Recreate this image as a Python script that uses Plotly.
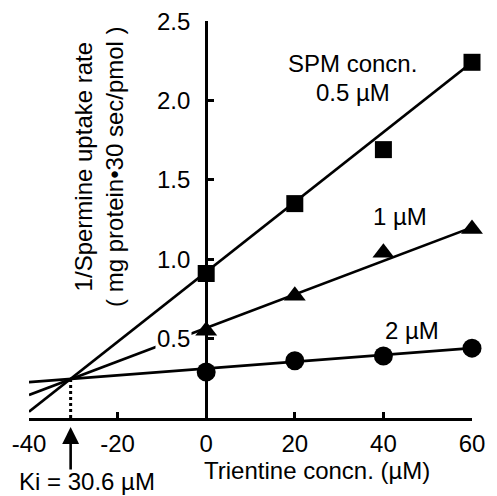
import plotly.graph_objects as go

# Data
trientine = [0, 20, 40, 60]
spm_05 = [0.91, 1.35, 1.69, 2.24]
spm_1 = [0.55, 0.77, 1.04, 1.19]
spm_2 = [0.29, 0.36, 0.39, 0.44]

# Fitted lines (end points)
fit_x = [-40, 60]
fit_05 = [0.04, 2.24]
fit_1 = [0.145, 1.20]
fit_2 = [0.226, 0.44]

ki_value = -30.6
ki_y = 0.247

x_ticks = [-40, -20, 0, 20, 40, 60]
y_ticks = [0.5, 1.0, 1.5, 2.0, 2.5]

FONT = "Liberation Sans, Arial, Helvetica, sans-serif"
FS = 24

fig = go.Figure()

for fy in (fit_05, fit_1, fit_2):
    fig.add_trace(go.Scatter(x=fit_x, y=fy, mode="lines",
                             line=dict(color="black", width=2.6),
                             cliponaxis=False, showlegend=False, hoverinfo="skip"))

fig.add_trace(go.Scatter(x=[ki_value, ki_value], y=[0, ki_y], mode="lines",
                         line=dict(color="black", width=3, dash="dot"),
                         showlegend=False, hoverinfo="skip"))

fig.add_trace(go.Scatter(x=trientine, y=spm_05, mode="markers",
                         marker=dict(symbol="square", size=17, color="black"),
                         cliponaxis=False, showlegend=False))
fig.add_trace(go.Scatter(x=trientine, y=spm_1, mode="markers",
                         marker=dict(symbol="triangle-up", size=19, color="black"),
                         cliponaxis=False, showlegend=False))
fig.add_trace(go.Scatter(x=trientine, y=spm_2, mode="markers",
                         marker=dict(symbol="circle", size=19, color="black"),
                         cliponaxis=False, showlegend=False))

annotations = []
for v in y_ticks:
    annotations.append(dict(x=0, y=v, xref="x", yref="y", text=f"{v:.1f}",
                            showarrow=False, xanchor="right", yanchor="middle",
                            xshift=-14, bgcolor="white", borderpad=1,
                            font=dict(family=FONT, size=FS, color="black")))

def label(text, x, y, xref="x", yref="y", **kw):
    d = dict(x=x, y=y, xref=xref, yref=yref, text=text, showarrow=False,
             xanchor="center", yanchor="middle",
             font=dict(family=FONT, size=FS, color="black"))
    d.update(kw)
    annotations.append(d)

label("SPM concn.", 33.1, 2.235)
label("0.5 µM", 33.1, 2.05)
label("1 µM", 43.8, 1.266)
label("2 µM", 46.4, 0.554)
# below the axis: use paper y (plot area spans px 21..418)
label("Ki = 30.6 µM", -26.9, (418 - 496) / 397, yref="paper", yanchor="bottom", borderpad=0)
label("Trientine concn. (µM)", 24.9, (418 - 470) / 397, yref="paper")

# arrow to Ki
annotations.append(dict(x=ki_value, y=(418 - 427) / 397, xref="x", yref="paper",
                        ax=0, ay=44, text="", showarrow=True, arrowhead=2,
                        arrowsize=1.3, arrowwidth=2.6, arrowcolor="black"))

# y-axis title
annotations.append(dict(x=(99 - 28) / 450, y=(418 - 166) / 397, xref="paper", yref="paper",
                        text="1/Spermine uptake rate<br>( mg protein•30 sec/pmol )",
                        textangle=-90, showarrow=False, xanchor="center", yanchor="middle",
                        font=dict(family=FONT, size=FS, color="black")))

fig.update_layout(
    width=497, height=496,
    margin=dict(l=28, r=19, t=21, b=78),
    paper_bgcolor="white", plot_bgcolor="white",
    showlegend=False,
    annotations=annotations,
    xaxis=dict(range=[-40, 60], domain=[0, 1], showline=True, linecolor="black",
               linewidth=3, ticks="inside", ticklen=6, tickwidth=2.5, tickcolor="black",
               tickvals=x_ticks, ticktext=[str(t) for t in x_ticks],
               tickfont=dict(family=FONT, size=FS, color="black"),
               showgrid=False, zeroline=False, ticklabelstandoff=2),
    yaxis=dict(range=[0, 2.5], anchor="free", position=0.4, showline=True,
               linecolor="black", linewidth=3, ticks="inside", ticklen=6,
               tickwidth=2.5, tickcolor="black", tickvals=y_ticks,
               showticklabels=False, showgrid=False, zeroline=False),
)

fig.write_html("out.html", config={"displayModeBar": False},
               post_script="document.body.style.margin='0';document.body.style.overflow='hidden';")
